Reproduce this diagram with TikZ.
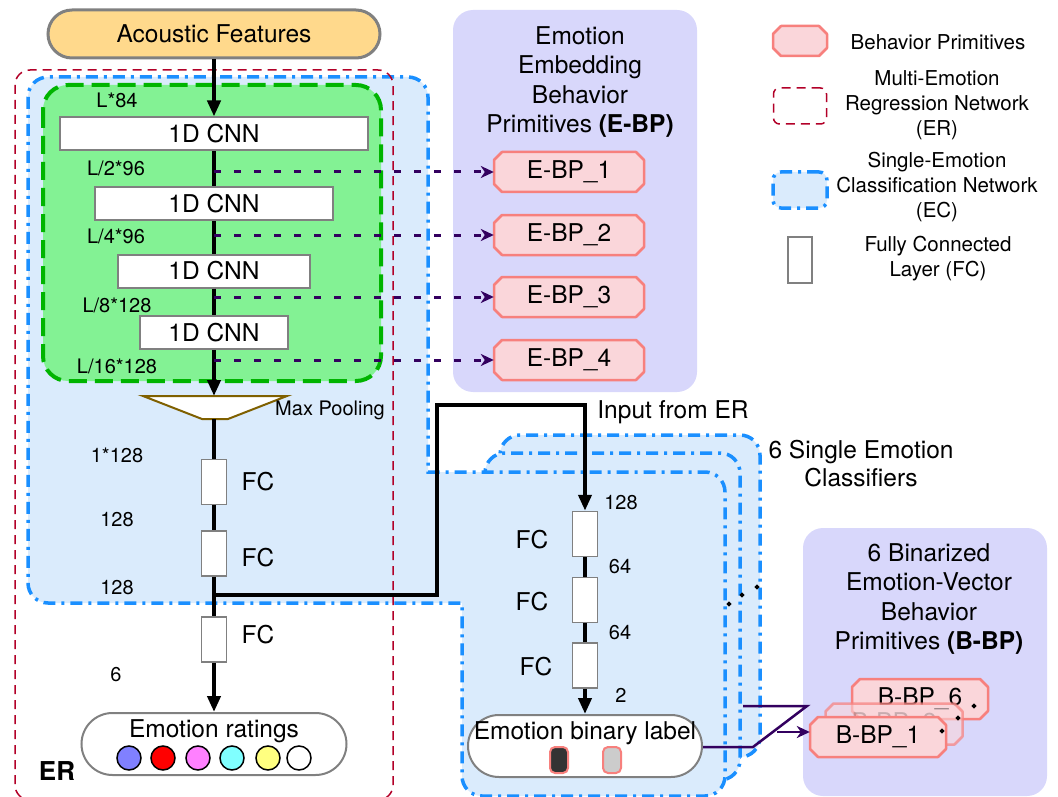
\documentclass[tikz,border=0pt]{standalone}
\usepackage{fontspec}
\setmainfont{TeX Gyre Heros}
\usetikzlibrary{arrows.meta,shapes.geometric}
\definecolor{acfill}{HTML}{FFD98C}
\definecolor{grfill}{HTML}{83F294}
\definecolor{grline}{HTML}{00B400}
\definecolor{ecfill}{HTML}{DAEBFC}
\definecolor{ecline}{HTML}{1A8FFF}
\definecolor{erline}{HTML}{B20028}
\definecolor{panelfill}{HTML}{D8D7FB}
\definecolor{bpfill}{HTML}{FAD6DA}
\definecolor{bpline}{HTML}{F7807D}
\definecolor{purp}{HTML}{33005F}
\definecolor{mpline}{HTML}{7F6000}
\definecolor{c1}{HTML}{8080FF}
\definecolor{c2}{HTML}{FF0000}
\definecolor{c3}{HTML}{FF80FF}
\definecolor{c4}{HTML}{80FFFF}
\definecolor{c5}{HTML}{FFFF80}
% chamfered box: [opts]{name}{x}{y}{w}{h}{text}
\newcommand{\chamferbox}[7][]{%
  \pgfmathsetmacro\chhw{#5/2}\pgfmathsetmacro\chhh{#6/2}%
  \draw[bpshape,#1] (#3-\chhw+8,#4-\chhh) -- (#3+\chhw-8,#4-\chhh) -- (#3+\chhw,#4-\chhh+8) -- (#3+\chhw,#4+\chhh-8) -- (#3+\chhw-8,#4+\chhh) -- (#3-\chhw+8,#4+\chhh) -- (#3-\chhw,#4+\chhh-8) -- (#3-\chhw,#4-\chhh+8) -- cycle;%
  \node[inner sep=0pt, minimum width=#5pt, minimum height=#6pt, mainf, #1] (#2) at (#3,#4) {#7};%
}
\begin{document}
\begin{tikzpicture}[x=1pt,y=-1pt,
  mainf/.style={font=\fontsize{24.5}{29.5}\selectfont},
  smallf/.style={font=\fontsize{20}{24}\selectfont},
  legf/.style={font=\fontsize{20.5}{25}\selectfont, align=center},
  ecstyle/.style={draw=ecline, fill=ecfill, line width=3.5pt, dash pattern=on 12pt off 6pt on 3pt off 6pt},
  erstyle/.style={draw=erline, line width=1.5pt, dash pattern=on 9pt off 6pt},
  cnn/.style={draw=gray, line width=2pt, fill=white, inner sep=0pt, minimum height=33pt, mainf},
  fcbox/.style={draw=gray, line width=1.5pt, fill=white, inner sep=0pt, minimum width=25pt, minimum height=45pt},
  bpshape/.style={draw=bpline, fill=bpfill, line width=2.5pt, line join=round},
  pill/.style={draw=gray, line width=2pt, fill=white, rounded corners=31pt, inner sep=0pt, minimum height=62pt},
  blk/.style={draw=black, line width=4pt},
  blkarrow/.style={blk, -{Triangle[length=16pt,width=13pt]}},
  purpdash/.style={draw=purp, line width=3pt, dash pattern=on 7pt off 13pt, -{Stealth[length=13pt,width=12pt,inset=4pt]}},
  purpline/.style={draw=purp, line width=2.5pt},
  dot/.style={diamond, fill=black, inner sep=0pt, minimum size=5.5pt},
  rate/.style={circle, draw=black, line width=1.5pt, inner sep=0pt, minimum size=24pt},
  binsq/.style={draw=bpline, line width=2pt, rounded corners=5pt, inner sep=0pt, minimum width=18pt, minimum height=26pt}
]
\useasboundingbox (0,0) rectangle (1058,797);

% stacked single emotion classifiers (behind)
\draw[ecstyle, rounded corners=20pt] (500,435) rectangle (760,757);
\draw[ecstyle, rounded corners=20pt] (485,453) rectangle (740,780);
% merged EC region
\draw[ecstyle] (200,77) [rounded corners=20pt] -- (428,77) [sharp corners] -- (428,472) [rounded corners=20pt] -- (725,472) -- (725,796) -- (462,796) [sharp corners] -- (462,603) [rounded corners=20pt] -- (28,603) -- (28,77) -- cycle;
% green conv block
\draw[draw=grline, fill=grfill, line width=4pt, dash pattern=on 18pt off 8pt, rounded corners=25pt] (43,85) rectangle (381,381);
% ER region
\draw[erstyle, rounded corners=15pt] (15,70) rectangle (393,800);

% panels
\fill[panelfill, rounded corners=20pt] (453,10) rectangle (697,392);
\node[mainf, align=center] (ebpt) at (580,82) {Emotion\\Embedding\\Behavior\\Primitives \textbf{(E-BP)}};
\fill[panelfill, rounded corners=20pt] (803,528) rectangle (1047,796);
\node[mainf, align=center] (bbpt) at (929,599) {6 Binarized\\Emotion-Vector\\Behavior\\Primitives \textbf{(B-BP)}};

% main pipeline
\node[draw=gray, line width=3pt, fill=acfill, rounded corners=24pt, minimum width=332pt, minimum height=48pt, inner sep=0pt, mainf] (ac) at (214,34) {Acoustic Features};
\node[cnn, minimum width=308pt] (cn1) at (214,134) {1D CNN};
\node[cnn, minimum width=238pt] (cn2) at (214,203.5) {1D CNN};
\node[cnn, minimum width=192pt] (cn3) at (214,271) {1D CNN};
\node[cnn, minimum width=148pt] (cn4) at (214,332.5) {1D CNN};
\node[smallf] (l1) at (117,100) {L*84};
\node[smallf] (l2) at (116,168) {L/2*96};
\node[smallf] (l3) at (116,236) {L/4*96};
\node[smallf] (l4) at (117,305) {L/8*128};
\node[smallf] (l5) at (117,366) {L/16*128};

\draw[line width=2pt, draw=mpline, fill=white] (143,396) -- (287,396) -- (228,419) -- (202,419) -- cycle;
\coordinate (mptop) at (214,396);
\coordinate (mpbot) at (214,419);
\node[smallf] (mpl) at (330,410) {Max Pooling};

\node[fcbox] (f1) at (214,482) {};
\node[fcbox] (f2) at (214,553.5) {};
\node[fcbox] (f3) at (214,639.5) {};
\node[mainf] (f1l) at (258,482) {FC};
\node[mainf] (f2l) at (258,558) {FC};
\node[mainf] (f3l) at (258,635) {FC};
\node[smallf] (n1) at (117,455) {1*128};
\node[smallf] (n2) at (117,520) {128};
\node[smallf] (n3) at (117,588) {128};
\node[smallf] (n4) at (116,675) {6};

\node[pill, minimum width=265pt] (rat) at (214,744) {};
\node[mainf] (ratl) at (214,731) {Emotion ratings};
\node[rate, fill=c1] (r1) at (129,758) {};
\node[rate, fill=c2] (r2) at (163,758) {};
\node[rate, fill=c3] (r3) at (198,758) {};
\node[rate, fill=c4] (r4) at (232,758) {};
\node[rate, fill=c5] (r5) at (268,758) {};
\node[rate, fill=white] (r6) at (299,758) {};
\node[font=\fontsize{26}{30}\selectfont\bfseries] (erl) at (57,771) {ER};

% E-BP boxes
\chamferbox{e1}{569}{172}{150}{40}{E-BP\_1}
\chamferbox{e2}{569}{235}{150}{40}{E-BP\_2}
\chamferbox{e3}{569}{297}{150}{40}{E-BP\_3}
\chamferbox{e4}{569}{360}{150}{40}{E-BP\_4}
\coordinate (t1) at (214,172);
\coordinate (t2) at (214,235);
\coordinate (t3) at (214,297);
\coordinate (t4) at (214,360);

% right classifier chain
\node[mainf] (inl) at (673,412) {Input from ER};
\node[align=center, font=\fontsize{24.5}{28}\selectfont] (scl) at (861,464) {6 Single Emotion\\Classifiers};
\node[fcbox] (g1) at (585,534) {};
\node[fcbox] (g2) at (585,600) {};
\node[fcbox] (g3) at (585,665.5) {};
\node[mainf] (g1l) at (532,540) {FC};
\node[mainf] (g2l) at (532,602) {FC};
\node[mainf] (g3l) at (536,667) {FC};
\node[smallf] (m1) at (621,503) {128};
\node[smallf] (m2) at (620,567) {64};
\node[smallf] (m3) at (620,633) {64};
\node[smallf] (m4) at (621,695) {2};
\node[pill, minimum width=234pt] (bin) at (585,746) {};
\node[mainf] (binl) at (585,733) {Emotion binary label};
\node[binsq, fill=black!80] (bq1) at (559,760) {};
\node[binsq, fill=black!20] (bq2) at (612,760) {};

% B-BP boxes
\chamferbox{b6}{920}{699}{136}{40}{B-BP\_6}
\chamferbox[fill opacity=0.6, draw opacity=0.7, text opacity=0.2]{b2}{894}{724}{137}{41}{B-BP\_2}
\chamferbox{b1}{878}{737}{136}{40}{B-BP\_1}

% legend
\chamferbox{lg1}{800}{41}{54}{30}{}
\node[legf] (lg1t) at (938,42) {Behavior Primitives};
\node[erstyle, rounded corners=6pt, minimum width=53pt, minimum height=36pt] (lg2) at (800,106) {};
\node[legf] (lg2t) at (937,105) {Multi-Emotion\\Regression Network\\(ER)};
\node[ecstyle, rounded corners=8pt, minimum width=54pt, minimum height=36pt] (lg3) at (800,190) {};
\node[legf] (lg3t) at (937,187) {Single-Emotion\\Classification Network\\(EC)};
\node[draw=gray, line width=1.5pt, minimum width=24pt, minimum height=46pt, inner sep=0pt] (lg4) at (800,260) {};
\node[legf] (lg4t) at (938,259) {Fully Connected\\Layer (FC)};

% connectors main
\draw[blkarrow] (ac) -- (cn1);
\draw[blk] (cn1) -- (cn2);
\draw[blk] (cn2) -- (cn3);
\draw[blk] (cn3) -- (cn4);
\draw[blkarrow] (cn4) -- (mptop);
\draw[blk] (mpbot) -- (f1);
\draw[blk] (f1) -- (f2);
\draw[blk] (f2) -- (f3);
\draw[blkarrow] (f3) -- (rat);
\coordinate (jn) at (214,595);
\coordinate (turn) at (437,405);
\draw[blkarrow, line join=miter] (jn) -| (turn) -| (g1.north);
\draw[blk] (g1) -- (g2);
\draw[blk] (g2) -- (g3);
\draw[blkarrow] (g3) -- (bin);

\draw[purpdash] (t1) -- (e1);
\draw[purpdash] (t2) -- (e2);
\draw[purpdash] (t3) -- (e3);
\draw[purpdash] (t4) -- (e4);

\coordinate (a1) at (753,747);
\coordinate (a2) at (807,706);
\coordinate (a3) at (743,706);
\coordinate (a4) at (777,732);
\draw[purpline] (bin.east |- a1) -- (a1) -- (a2) -- (a3);
\draw[purpline, -{Stealth[length=13pt,width=12pt,inset=4pt]}] (a4) -- (a4 -| b1.west);

% ellipsis dots
\node[dot] (d1) at (729,604) {};
\node[dot] (d2) at (742,595) {};
\node[dot] (d3) at (757,587) {};
\node[dot] (d4) at (942,731) {};
\node[dot] (d5) at (958,718) {};
\node[dot] (d6) at (974,706) {};
\end{tikzpicture}
\end{document}
